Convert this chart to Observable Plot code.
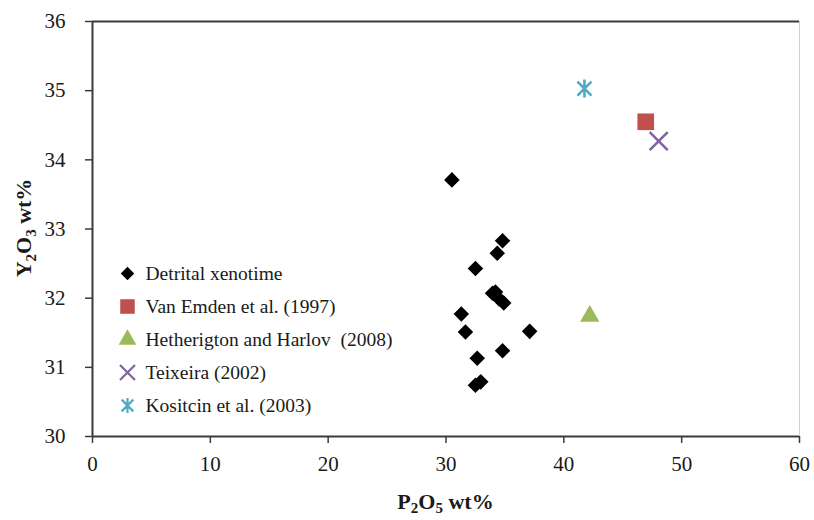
<!DOCTYPE html>
<html>
<head>
<meta charset="utf-8">
<script src="https://cdn.jsdelivr.net/npm/d3@7"></script>
<script src="https://cdn.jsdelivr.net/npm/@observablehq/plot@0.6"></script>
<style>
  html, body { margin: 0; padding: 0; background: #fff; }
  #chart svg { display: block; }
  #chart svg, #chart svg text { font-family: "Liberation Serif", "Times New Roman", serif !important; }
</style>
</head>
<body>
<div id="chart"></div>
<script>
// Detrital xenotime analyses: P2O5 vs Y2O3 (wt%)
const xenoP2O5 = [30.5, 34.8, 34.35, 32.5, 33.95, 34.2, 34.5, 34.9, 31.3, 31.65, 37.1, 34.8, 32.65, 32.5, 32.95];
const xenoY2O3 = [33.71, 32.83, 32.65, 32.43, 32.07, 32.09, 31.99, 31.93, 31.77, 31.51, 31.52, 31.24, 31.13, 30.74, 30.79];

// Published reference compositions
const refNames = ["Van Emden et al. (1997)", "Hetherigton and Harlov  (2008)", "Teixeira (2002)", "Kositcin et al. (2003)"];
const refP2O5 = [46.95, 42.2, 48.05, 41.75];
const refY2O3 = [34.55, 31.74, 34.27, 35.03];

const xTicks = [0, 10, 20, 30, 40, 50, 60];
const yTicks = [30, 31, 32, 33, 34, 35, 36];

// Stroked marker shapes: an X, and an X with a vertical bar
const timesSymbol = {
  draw(ctx, size) {
    const s = Math.sqrt(size / Math.PI);
    ctx.moveTo(-s, -s); ctx.lineTo(s, s);
    ctx.moveTo(-s, s); ctx.lineTo(s, -s);
  }
};
const starSymbol = {
  draw(ctx, size) {
    const s = Math.sqrt(size / Math.PI);
    const d = s * 0.78;
    ctx.moveTo(-d, -d); ctx.lineTo(d, d);
    ctx.moveTo(-d, d); ctx.lineTo(d, -d);
    ctx.moveTo(0, -s); ctx.lineTo(0, s);
  }
};

const series = [
  {name: "Detrital xenotime", symbol: "square", rotate: 45, fill: "#000", stroke: "none", r: 6.2, lr: 5.4},
  {name: refNames[0], symbol: "square", rotate: 0, fill: "#c0504d", stroke: "none", r: 9.4, lr: 8.2},
  {name: refNames[1], symbol: "triangle", rotate: 0, fill: "#9bbb59", stroke: "none", r: 7.2, lr: 6.6},
  {name: refNames[2], symbol: timesSymbol, rotate: 0, fill: "none", stroke: "#8064a2", r: 9, lr: 7.5},
  {name: refNames[3], symbol: starSymbol, rotate: 0, fill: "none", stroke: "#4bacc6", r: 9, lr: 7.5}
];

const xeno = xenoP2O5.map((p, i) => ({p, y: xenoY2O3[i]}));
const refs = refNames.map((name, i) => ({name, p: refP2O5[i], y: refY2O3[i], s: series[i + 1]}));

const font = "Liberation Serif, Times New Roman, serif";
const axisColor = "#3a3a3a";
const textColor = "#1a1a1a";

const marks = [
  Plot.ruleX([60], {stroke: "#cfcfcf", strokeWidth: 1}),
  Plot.ruleY([36], {stroke: axisColor, strokeWidth: 2}),
  Plot.ruleY([30], {stroke: axisColor, strokeWidth: 2}),
  Plot.ruleX([0], {stroke: axisColor, strokeWidth: 2}),
  Plot.axisX({ticks: xTicks, tickFormat: d => String(d), tickSize: 7, tickPadding: 13, fontSize: 21, fontFamily: font, stroke: axisColor, strokeWidth: 1.5, label: null, color: textColor}),
  Plot.axisY({ticks: yTicks, tickFormat: d => String(d), tickSize: 7, tickPadding: 20, fontSize: 21, fontFamily: font, stroke: axisColor, strokeWidth: 1.5, label: null, color: textColor}),
  Plot.dot(xeno, {x: "p", y: "y", symbol: () => series[0].symbol, rotate: 45, r: series[0].r, fill: "#000", stroke: null})
];

for (const d of refs) {
  marks.push(Plot.dot([d], {
    x: "p", y: "y", symbol: () => d.s.symbol, r: d.s.r,
    fill: d.s.fill, stroke: d.s.stroke, strokeWidth: 2.6
  }));
}

// Legend inside the plot area, anchored to its top-left corner
const legendTop = 252, legendStep = 33;
series.forEach((s, i) => {
  marks.push(Plot.dot([s], {
    frameAnchor: "top-left", dx: 35, dy: legendTop + i * legendStep,
    symbol: () => s.symbol, rotate: s.rotate, r: s.lr,
    fill: s.fill, stroke: s.stroke, strokeWidth: 2.2
  }));
  marks.push(Plot.text([s], {
    frameAnchor: "top-left", dx: 53, dy: legendTop + i * legendStep,
    text: "name", textAnchor: "start", lineAnchor: "middle",
    fontSize: 19.5, fontFamily: font, fill: textColor
  }));
});

const chart = Plot.plot({
  width: 814,
  height: 520,
  marginLeft: 92,
  marginRight: 15,
  marginTop: 21,
  marginBottom: 84,
  style: {background: "#fff", color: textColor},
  x: {domain: [0, 60]},
  y: {domain: [30, 36]},
  symbol: {type: "identity"},
  marks
});

// Axis titles with chemical subscripts
const svg = d3.select(chart).attr("font-family", font);
const xt = svg.append("text")
  .attr("x", (92 + 799) / 2).attr("y", 509)
  .attr("text-anchor", "middle")
  .attr("font-family", font).attr("font-size", 22).attr("font-weight", "bold").attr("fill", textColor);
xt.append("tspan").text("P");
xt.append("tspan").attr("font-size", 15).attr("dy", 4).text("2");
xt.append("tspan").attr("dy", -4).text("O");
xt.append("tspan").attr("font-size", 15).attr("dy", 4).text("5");
xt.append("tspan").attr("dy", -4).text(" wt%");

const yt = svg.append("text")
  .attr("transform", "translate(31,228) rotate(-90)")
  .attr("text-anchor", "middle")
  .attr("font-family", font).attr("font-size", 22).attr("font-weight", "bold").attr("fill", textColor);
yt.append("tspan").text("Y");
yt.append("tspan").attr("font-size", 15).attr("dy", 5).text("2");
yt.append("tspan").attr("dy", -5).text("O");
yt.append("tspan").attr("font-size", 15).attr("dy", 5).text("3");
yt.append("tspan").attr("dy", -5).text(" wt%");

document.getElementById("chart").appendChild(chart);
</script>
</body>
</html>
